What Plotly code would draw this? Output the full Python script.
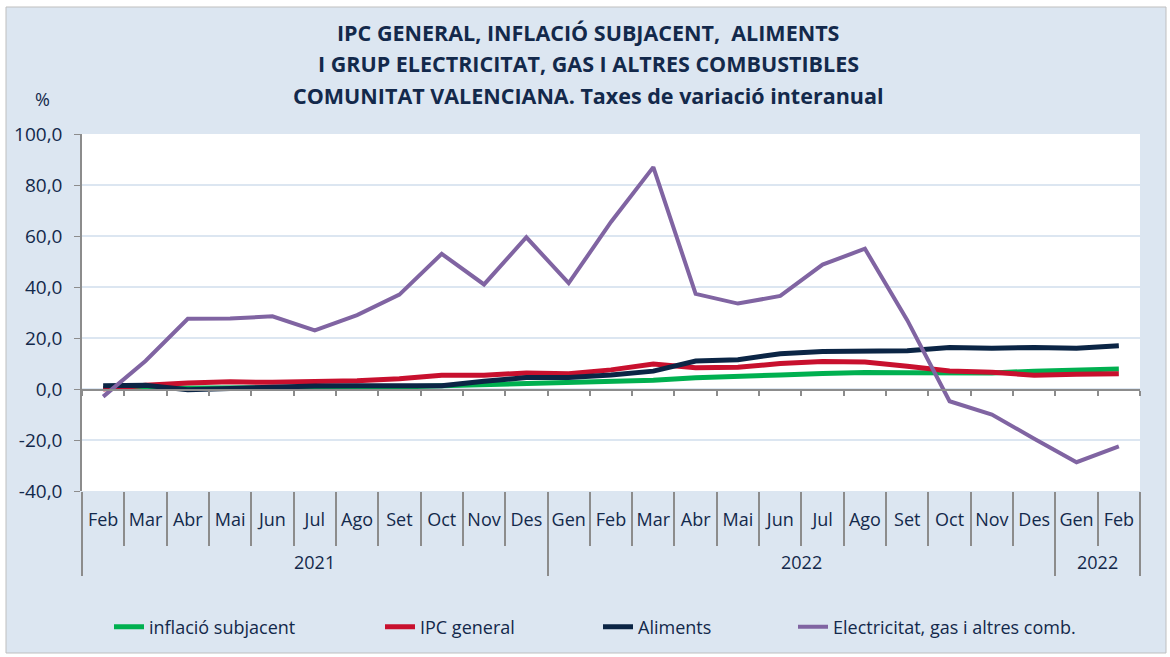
import plotly.graph_objects as go

# --- data ---
months = ["Feb", "Mar", "Abr", "Mai", "Jun", "Jul", "Ago", "Set", "Oct", "Nov", "Des",
          "Gen", "Feb", "Mar", "Abr", "Mai", "Jun", "Jul", "Ago", "Set", "Oct", "Nov", "Des",
          "Gen", "Feb"]
year_labels = ["2021", "2022", "2022"]
year_sizes = [11, 12, 2]

inflacio_subjacent = [0.2, 0.3, 0.1, 0.2, 0.2, 0.4, 0.3, 0.8, 1.3, 1.7, 2.1,
                      2.4, 3.0, 3.4, 4.4, 4.8, 5.5, 6.1, 6.5, 6.4, 6.3, 6.3, 7.0,
                      7.6, 7.8]
ipc_general = [0.0, 1.5, 2.4, 2.8, 2.6, 2.8, 3.2, 4.0, 5.4, 5.4, 6.3,
               6.0, 7.5, 9.8, 8.3, 8.5, 10.0, 10.8, 10.6, 8.9, 7.1, 6.6, 5.4,
               5.8, 6.0]
aliments = [1.3, 1.5, -0.3, 0.3, 0.5, 1.2, 1.3, 1.3, 1.3, 3.0, 4.5,
            4.5, 5.5, 7.0, 11.0, 11.5, 13.8, 14.7, 14.7, 15.0, 16.3, 16.0, 16.3,
            16.0, 17.0]
electricitat = [-3.0, 11.0, 27.5, 27.6, 28.5, 23.0, 29.0, 37.0, 53.0, 41.0, 59.5,
                41.5, 65.5, 87.0, 37.3, 33.5, 36.5, 48.8, 55.0, 27.0, -4.8, -10.0, -19.5,
                -28.7, -22.5]

y_ticks = [-40, -20, 0, 20, 40, 60, 80, 100]

FONT = "Open Sans"
TEXT = "#13294B"
BG = "#DCE6F1"
AXIS = "#8C8C8C"

# plot area in pixels: left 82, right 1140, top 134, bottom 491
L, R, T, B = 82, 30, 134, 166
PW, PH = 1170 - L - R, 657 - T - B


def px_x(px):
    return (px - L) / PW


def px_y(py):
    return (657 - B - py) / PH


idx = list(range(len(months)))
x_range = [-0.5, len(months) - 0.5]

# group boundaries / centres for the year row
bounds = [-0.5]
centres = []
start = 0
for size in year_sizes:
    centres.append(start + (size - 1) / 2)
    start += size
    bounds.append(start - 0.5)

series = [
    ("inflació subjacent", inflacio_subjacent, "#00B050", 5, "legend", 149),
    ("IPC general", ipc_general, "#C8102E", 5, "legend2", 420),
    ("Aliments", aliments, "#0B2545", 5, "legend3", 638),
    ("Electricitat, gas i altres comb.", electricitat, "#8064A2", 4, "legend4", 833),
]

fig = go.Figure()
for name, vals, color, width, leg, _ in series:
    fig.add_trace(go.Scatter(
        x=idx, y=vals, mode="lines", name=name,
        line=dict(color=color, width=width),
        legend=leg,
        customdata=months,
        hovertemplate="%{customdata}<br>%{y:.1f}<extra>" + name + "</extra>"
    ))

# invisible traces so the helper axes (zero-level ticks, year dividers) get drawn
fig.add_trace(go.Scatter(x=x_range, y=[0, 0], xaxis="x2", mode="lines",
                         line=dict(width=0), showlegend=False, hoverinfo="skip"))
fig.add_trace(go.Scatter(x=x_range, y=[0, 0], xaxis="x3", mode="lines",
                         line=dict(width=0), showlegend=False, hoverinfo="skip"))

legend_common = dict(
    orientation="h", yanchor="middle", xanchor="left",
    font=dict(family=FONT, size=18, color=TEXT),
    bgcolor="rgba(0,0,0,0)", itemwidth=30,
)
layout_legends = {}
for name, vals, color, width, leg, tx in series:
    layout_legends[leg] = dict(legend_common, x=px_x(tx - 40), y=px_y(627))

fig.update_layout(
    width=1170, height=657,
    margin=dict(l=L, r=R, t=T, b=B),
    paper_bgcolor="white",
    plot_bgcolor="white",
    showlegend=True,
    font=dict(family=FONT, color=TEXT),
    xaxis=dict(
        range=x_range,
        tickvals=idx, ticktext=months, ticks="",
        tickfont=dict(family=FONT, size=18, color=TEXT),
        ticklabelstandoff=16,
        minor=dict(ticks="outside", ticklen=54, tickcolor=AXIS, tickwidth=1.5,
                   tick0=0.5, dtick=1, showgrid=False),
        showgrid=False, showline=False, zeroline=False,
    ),
    yaxis=dict(
        range=[-40, 100], tickvals=y_ticks,
        ticktext=[f"{v:.1f}".replace(".", ",") for v in y_ticks],
        tickfont=dict(family=FONT, size=19, color=TEXT),
        ticklabelstandoff=8,
        gridcolor=BG, gridwidth=1.5,
        showline=True, linecolor=AXIS, linewidth=1.5,
        ticks="outside", ticklen=6, tickcolor=AXIS,
        zeroline=False,
    ),
    # axis line with small ticks at the zero level
    xaxis2=dict(
        overlaying="x", anchor="free", position=px_y(390),
        range=x_range, tick0=0.5, dtick=1,
        showline=True, linecolor=AXIS, linewidth=1.5,
        ticks="outside", ticklen=5, tickcolor=AXIS, tickwidth=1.5,
        showticklabels=False, showgrid=False, zeroline=False,
    ),
    # long ticks separating the year groups
    xaxis3=dict(
        overlaying="x", anchor="free", position=0,
        range=x_range, tickvals=bounds,
        showline=False,
        ticks="outside", ticklen=84, tickcolor=AXIS, tickwidth=1.5,
        showticklabels=False, showgrid=False, zeroline=False,
    ),
    **layout_legends,
)

# chart background panel with thin border
fig.add_shape(type="rect", xref="paper", yref="paper", layer="below",
              x0=px_x(6), x1=px_x(1166), y0=px_y(653), y1=px_y(7),
              fillcolor=BG, line=dict(color="#BFBFBF", width=1))
# white plot area on top of the panel
fig.add_shape(type="rect", xref="paper", yref="paper", layer="below",
              x0=0, x1=1, y0=0, y1=1, fillcolor="white", line=dict(width=0))

for label, c in zip(year_labels, centres):
    fig.add_annotation(text=label, xref="x", yref="paper", x=c, y=px_y(562),
                       showarrow=False, xanchor="center", yanchor="middle",
                       font=dict(family=FONT, size=18, color=TEXT))

title_lines = [
    ("IPC GENERAL, INFLACIÓ SUBJACENT,  ALIMENTS", 33),
    ("I GRUP ELECTRICITAT, GAS I ALTRES COMBUSTIBLES", 63),
    ("COMUNITAT VALENCIANA. Taxes de variació interanual", 96),
]
for txt, py in title_lines:
    fig.add_annotation(text="<b>" + txt + "</b>", xref="paper", yref="paper",
                       x=px_x(588), y=px_y(py), showarrow=False,
                       xanchor="center", yanchor="middle",
                       font=dict(family=FONT, size=21.5, color=TEXT))

fig.add_annotation(text="%", xref="paper", yref="paper", x=px_x(42), y=px_y(99),
                   showarrow=False, xanchor="center", yanchor="middle",
                   font=dict(family=FONT, size=18, color=TEXT))

fig.write_html("out.html", config={"displayModeBar": False},
               post_script="document.body.style.margin='0px';")
